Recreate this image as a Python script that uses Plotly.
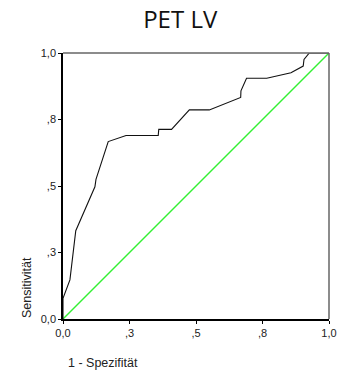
import plotly.graph_objects as go

# ROC curve (1 - specificity, sensitivity)
fpr = [0.0, 0.0, 0.026, 0.048, 0.12, 0.124, 0.17, 0.237, 0.358, 0.36, 0.408, 0.44, 0.475,
       0.55, 0.668, 0.669, 0.69, 0.766, 0.857, 0.903, 0.906, 0.926, 1.0]
tpr = [0.0, 0.078, 0.147, 0.332, 0.497, 0.525, 0.667, 0.69, 0.69, 0.713, 0.713, 0.748, 0.786,
       0.786, 0.833, 0.858, 0.905, 0.905, 0.926, 0.951, 0.976, 1.0, 1.0]
ref_line = [0.0, 1.0]
tick_vals = [0.0, 0.25, 0.5, 0.75, 1.0]
tick_text = ["0,0", ",3", ",5", ",8", "1,0"]

fig = go.Figure()
fig.add_trace(go.Scatter(x=ref_line, y=ref_line, mode="lines",
                         line=dict(color="#33f033", width=1.4), hoverinfo="skip"))
fig.add_trace(go.Scatter(x=fpr, y=tpr, mode="lines",
                         line=dict(color="#111111", width=1.1)))

axis_common = dict(range=[0, 1], tickvals=tick_vals, ticktext=tick_text, automargin=False,
                   showgrid=False, zeroline=False, showline=True, linecolor="black",
                   linewidth=1.5, ticks="outside", ticklen=3, tickcolor="black",
                   tickfont=dict(family="Liberation Sans, Arial", size=11, color="#222"))

fig.update_layout(
    width=340, height=374,
    margin=dict(l=63, r=11, t=53, b=55),
    paper_bgcolor="white", plot_bgcolor="white",
    showlegend=False,
    title=dict(text="PET LV", x=0.53, xanchor="center", y=1 - 20 / 374, yanchor="middle",
               automargin=False,
               font=dict(family="Open Sans", size=24, color="#111")),
    xaxis=dict(**axis_common),
    yaxis=dict(**axis_common),
    shapes=[
        dict(type="line", xref="x domain", yref="y domain", x0=0, x1=1, y0=1, y1=1,
             line=dict(color="#666", width=1.5)),
        dict(type="line", xref="x domain", yref="y domain", x0=1, x1=1, y0=0, y1=1,
             line=dict(color="#666", width=1.5)),
    ],
    annotations=[
        dict(text="Sensitivität", textangle=-90, xref="paper", yref="paper",
             x=0, y=0, xanchor="center", yanchor="middle", xshift=-36, yshift=31,
             showarrow=False,
             font=dict(family="Liberation Sans, Arial", size=12.5, color="#222")),
        dict(text="1 - Spezifität", xref="paper", yref="paper",
             x=0, y=0, xanchor="left", yanchor="middle", xshift=3, yshift=-44,
             showarrow=False,
             font=dict(family="Liberation Sans, Arial", size=12.5, color="#222")),
    ],
)
fig.write_html("out.html")
